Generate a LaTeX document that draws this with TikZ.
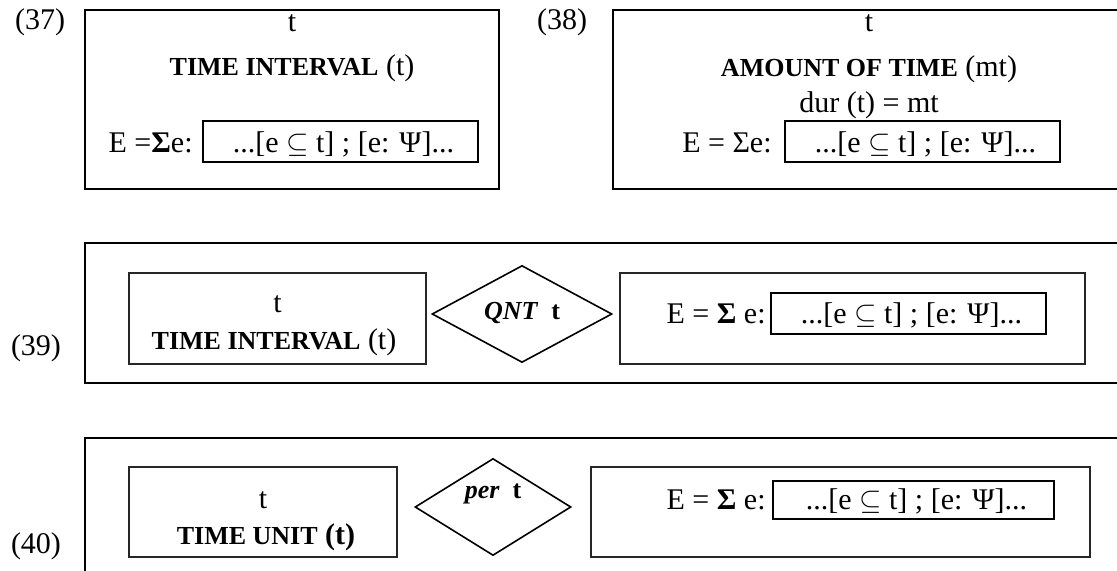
\documentclass[tikz,border=0pt]{standalone}
\usepackage{fontspec}
\setmainfont{Liberation Serif}
\usetikzlibrary{shapes.geometric}
\newcommand{\normtxt}{\fontsize{15}{18}\selectfont}
\newcommand{\boldcaps}[1]{{\fontsize{13}{15}\selectfont\bfseries #1}}
\begin{document}
\begin{tikzpicture}[x=0.5pt,y=-0.5pt,
    frame/.style={draw,line width=1.35pt,inner sep=0pt},
    inbox/.style={draw,line width=1.3pt,inner sep=0pt},
    cell/.style={draw=black!85,line width=0.85pt,inner sep=0pt},
    subbox/.style={draw,line width=1pt,inner sep=0pt},
    rhomb/.style={diamond,draw,line width=0.8pt,inner sep=0pt},
    txt/.style={anchor=base,inner sep=0pt,font=\normtxt},
    eqtxt/.style={anchor=base east,inner sep=0pt,font=\normtxt}]
    \useasboundingbox (0,0) rectangle (1117,571);

    \node[txt] (lab37) at (40,30) {(37)};
    \node[frame,minimum width=207pt,minimum height=89.5pt] (f37) at (292,99.5) {};
    \node[txt] (t37) at (292,32) {t};
    \node[txt] (hd37) at (292,76) {\boldcaps{TIME INTERVAL} (t)};
    \node[eqtxt] (eq37) at (193,153) {E =\textbf{Σ}e:};
    \node[inbox,minimum width=137.5pt,minimum height=20.5pt] (b37) at (340.5,141.5) {};
    \node[txt] (sub37) at (343.5,153) {...[e $\subseteq$ t] ; [e: Ψ]...};

    \node[txt] (lab38) at (562,30) {(38)};
    \node[frame,minimum width=256pt,minimum height=89.5pt] (f38) at (869,99.5) {};
    \node[txt] (t38) at (869,32) {t};
    \node[txt] (hd38) at (869,77) {\boldcaps{AMOUNT OF TIME} (mt)};
    \node[txt] (dur38) at (869,113) {dur (t) = mt};
    \node[eqtxt] (eq38) at (772,153) {E = Σe:};
    \node[inbox,minimum width=137.5pt,minimum height=20.5pt] (b38) at (922.5,141.5) {};
    \node[txt] (sub38) at (925.5,153) {...[e $\subseteq$ t] ; [e: Ψ]...};

    \node[txt] (lab39) at (36,355) {(39)};
    \node[frame,minimum width=520pt,minimum height=70pt] (f39) at (605,313) {};
    \node[cell,minimum width=148.5pt,minimum height=45.5pt] (a39) at (277.5,318.5) {};
    \node[txt] (t39) at (277.5,313) {t};
    \node[txt] (hd39) at (274,350) {\boldcaps{TIME INTERVAL} (t)};
    \node[rhomb,minimum width=90pt,minimum height=48.5pt] (d39) at (522,314) {};
    \node[txt] (q39) at (522,320) {\boldcaps{\textit{QNT}\ \ t}};
    \node[cell,minimum width=232.5pt,minimum height=45.5pt] (c39) at (852.5,318.5) {};
    \node[eqtxt] (eq39) at (766,323) {E = \textbf{Σ} e:};
    \node[subbox,minimum width=137.5pt,minimum height=20.5pt] (b39) at (908.5,313.5) {};
    \node[txt] (sub39) at (911.5,323) {...[e $\subseteq$ t] ; [e: Ψ]...};

    \node[txt] (lab40) at (36,553) {(40)};
    \node[frame,minimum width=520pt,minimum height=91pt] (f40) at (605,529) {};
    \node[cell,minimum width=134pt,minimum height=45pt] (a40) at (263,512) {};
    \node[txt] (t40) at (263,508) {t};
    \node[txt] (hd40) at (266,544) {\boldcaps{TIME UNIT} \textbf{(t)}};
    \node[rhomb,minimum width=78pt,minimum height=48.5pt] (d40) at (493,507) {};
    \node[txt] (p40) at (493,498) {\boldcaps{\textit{per}\ \ t}};
    \node[cell,minimum width=249.5pt,minimum height=45pt] (c40) at (840.5,512) {};
    \node[eqtxt] (eq40) at (766,509) {E = \textbf{Σ} e:};
    \node[subbox,minimum width=140.5pt,minimum height=19pt] (b40) at (913.5,500) {};
    \node[txt] (sub40) at (916.5,509) {...[e $\subseteq$ t] ; [e: Ψ]...};
\end{tikzpicture}
\end{document}
